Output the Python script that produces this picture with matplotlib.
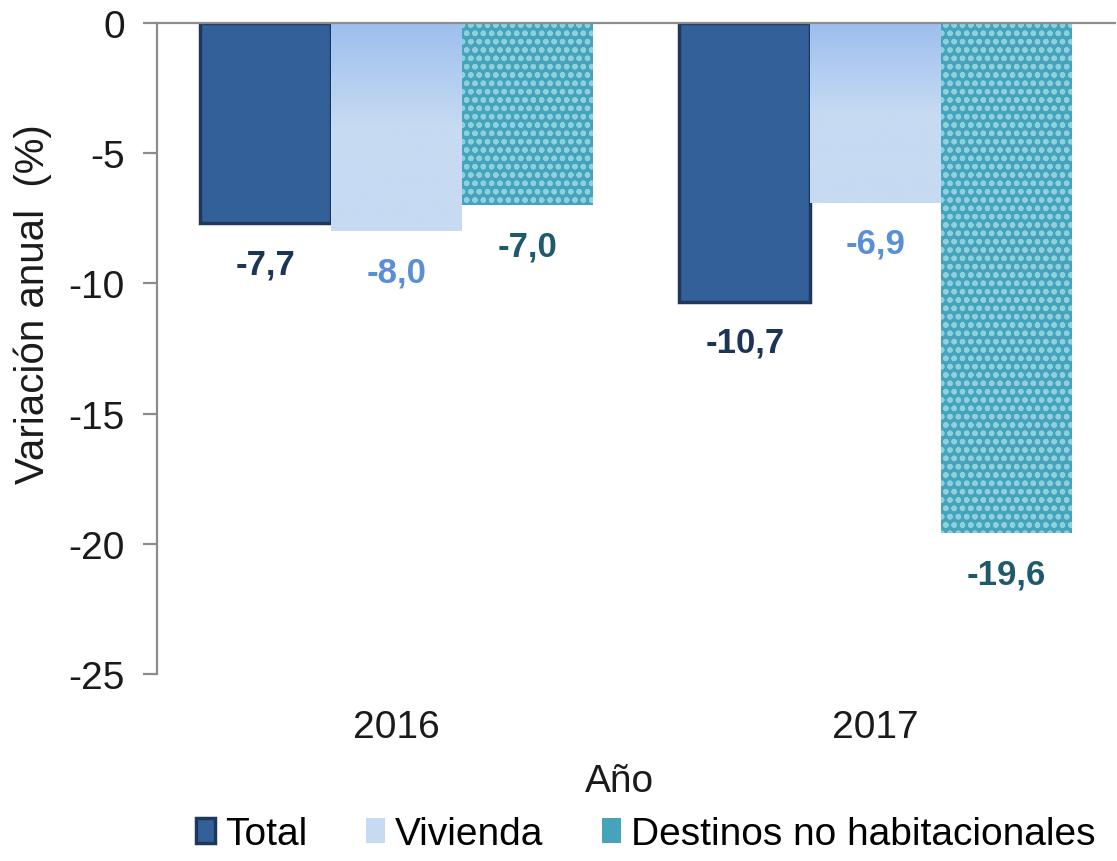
import numpy as np
import matplotlib
matplotlib.use('Agg')
import matplotlib.pyplot as plt
from matplotlib import rcParams
from matplotlib.colors import LinearSegmentedColormap

rcParams['font.family'] = ['Liberation Sans', 'DejaVu Sans']
rcParams['axes.unicode_minus'] = False
rcParams['hatch.linewidth'] = 1.6

years = ['2016', '2017']
series = ['Total', 'Vivienda', 'Destinos no habitacionales']
total = [-7.7, -10.7]
vivienda = [-8.0, -6.9]
destinos = [-7.0, -19.6]

label_colors = ['#1C3557', '#5A8ED6', '#1F5A6C']

fig = plt.figure(figsize=(11.17, 8.62), dpi=100)
ax = fig.add_axes([0.1405, 0.2169, 0.858, 0.7553])

x = np.arange(len(years))
w = 0.273

# Total: dark blue with bevel-ish edge
b_total = ax.bar(x - w, total, w, color='#34609A', edgecolor='#1D385C',
                 linewidth=2.5, label=series[0], zorder=2)

# Vivienda: light blue, gradient near the top
b_viv = ax.bar(x, vivienda, w, color='#C6DAF2', linewidth=0,
               label=series[1], zorder=2)
cmap = LinearSegmentedColormap.from_list('viv', ['#9CBFEE', '#C6DAF2', '#C6DAF2'])
grad = np.linspace(0, 1, 256).reshape(-1, 1)
for rect in b_viv:
    x0, y0 = rect.get_x(), rect.get_y()
    h = rect.get_height()
    im = ax.imshow(grad, cmap=cmap, aspect='auto', zorder=2.1,
                   extent=[x0, x0 + rect.get_width(), y0 + h, y0])
    im.set_clip_path(rect)

# Destinos: teal with dotted texture
b_dest = ax.bar(x + w, destinos, w, color='#45A3BC', linewidth=0,
                label=series[2], zorder=2)
ax.bar(x + w, destinos, w, facecolor='none', edgecolor='#8FD0DF',
       linewidth=0, hatch='oo', zorder=2.2)

# value labels
for bars, vals, col in [(b_total, total, label_colors[0]),
                        (b_viv, vivienda, label_colors[1]),
                        (b_dest, destinos, label_colors[2])]:
    for rect, v in zip(bars, vals):
        ax.annotate(f'{v:.1f}'.replace('.', ','),
                    (rect.get_x() + rect.get_width() / 2, v),
                    xytext=(0, -29), textcoords='offset points',
                    ha='center', va='center', fontsize=25,
                    fontweight='bold', color=col, zorder=5)

ax.set_xlim(-0.5, 1.5)
ax.set_ylim(-25, 0)
ax.set_yticks(np.arange(-25, 1, 5))
ax.set_xticks(x)
ax.set_xticklabels(years)

for s in ['right', 'bottom']:
    ax.spines[s].set_visible(False)
for s in ['left', 'top']:
    ax.spines[s].set_color('#8C8C8C')
    ax.spines[s].set_linewidth(1.6)

ax.tick_params(axis='y', length=10, width=1.6, color='#8C8C8C',
               labelsize=28, pad=13, labelcolor='#1A1A1A')
ax.tick_params(axis='x', length=0, labelsize=28, pad=25, labelcolor='#1A1A1A')

ax.set_ylabel('Variación anual  (%)', fontsize=29, color='#1A1A1A')
ax.yaxis.set_label_coords(-0.11, 0.57)
ax.set_xlabel('Año', fontsize=28, color='#1A1A1A')
ax.xaxis.set_label_coords(0.483, -0.137)

leg = fig.legend(handles=[b_total, b_viv, b_dest], labels=series,
                 loc='center', bbox_to_anchor=(0.578, 0.031), ncol=3,
                 frameon=False, fontsize=28, handlelength=0.5,
                 handleheight=0.6, handletextpad=0.25, columnspacing=1.5)

fig.savefig('out.png', dpi=100)
